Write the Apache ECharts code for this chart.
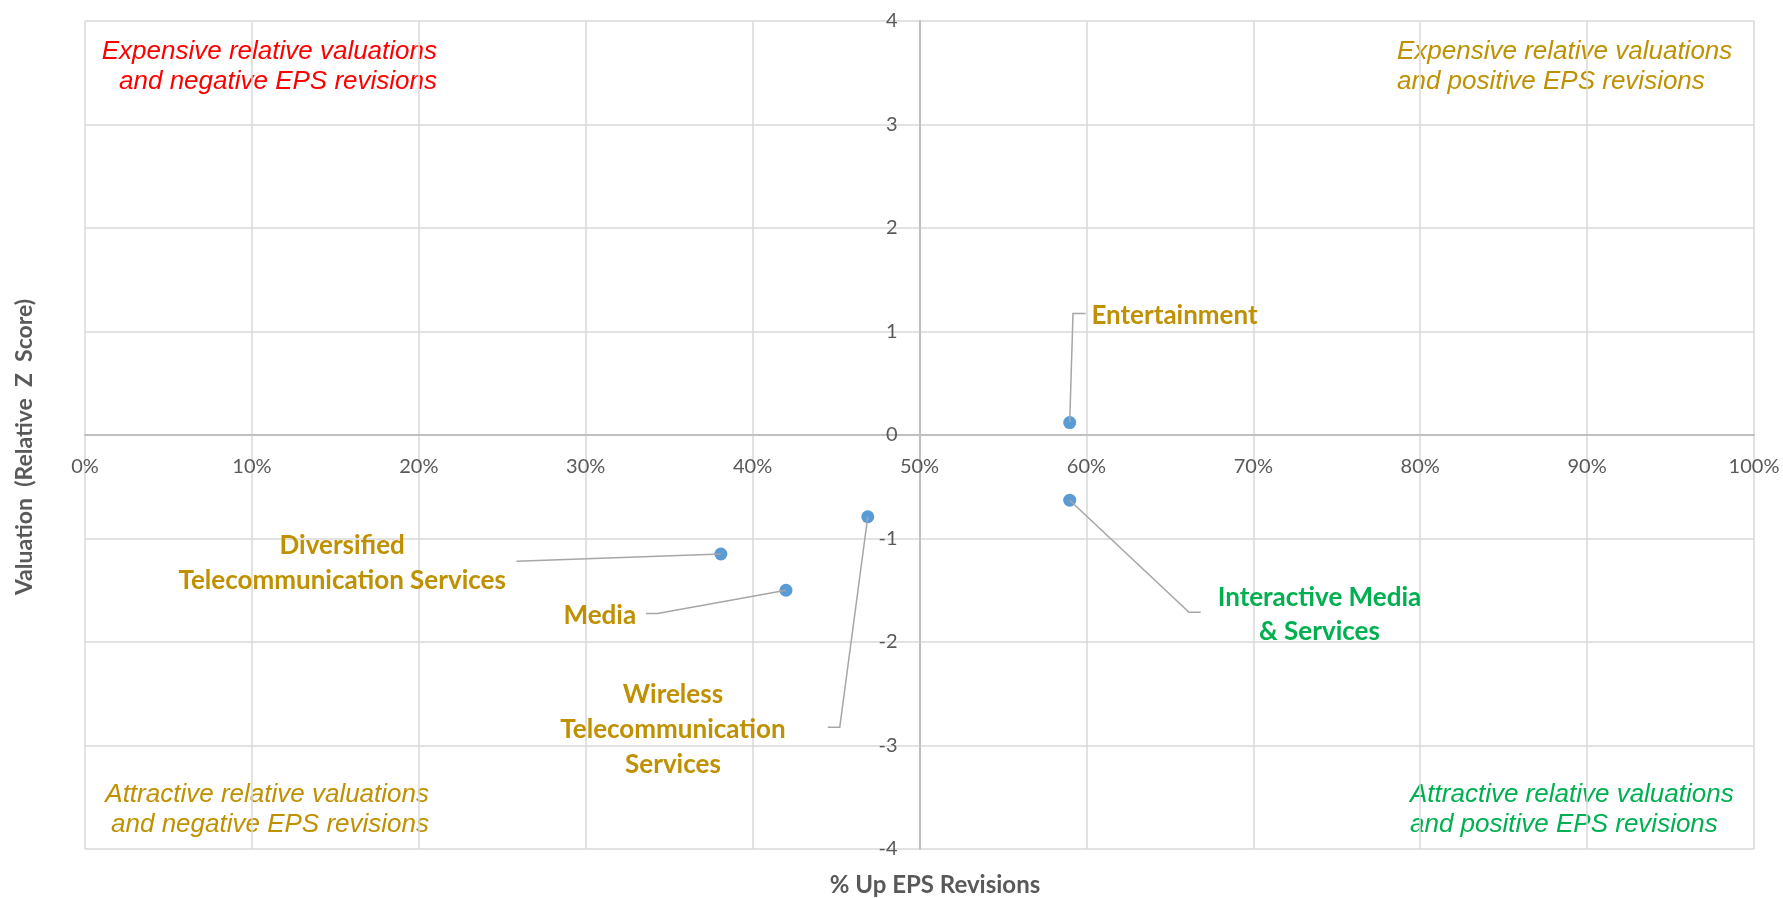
<!DOCTYPE html>
<html>
<head>
<meta charset="utf-8">
<title>Valuation vs % Up EPS Revisions</title>
<script src="https://cdn.jsdelivr.net/npm/echarts@6/dist/echarts.min.js"></script>
<style>
  html, body { margin: 0; padding: 0; background: #ffffff; }
  #chart { width: 1783px; height: 898px; }
</style>
</head>
<body>
<div id="chart"></div>
<script>
// Industry groups and their readings
const industries = [
  'Entertainment',
  'Interactive Media\n& Services',
  'Wireless\nTelecommunication\nServices',
  'Diversified\nTelecommunication Services',
  'Media'
];
const pctUpRevisions = [59.0, 59.0, 46.9, 38.1, 42.0];   // % Up EPS Revisions
const relativeZScore = [0.12, -0.63, -0.79, -1.15, -1.50]; // Valuation (Relative Z Score)

// Axis ticks
const xTicks = { min: 0, max: 100, step: 10 };
const yTicks = { min: -4, max: 4, step: 1 };

// Colours
const GOLD = '#BF9000';
const GREEN = '#00B050';
const RED = '#FF0000';
const AXIS_TEXT = '#595959';

// Callout placement per point, in pixels relative to the marker:
// leader polyline points, label anchor, alignment, colour, line height
const callouts = [
  { path: [[3.3, -109], [16, -109]], at: [21.7, -106.6], align: 'left', color: GOLD, lh: 34 },
  { path: [[119.3, 112], [131, 112]], at: [249.7, 114], align: 'center', color: GREEN, lh: 34 },
  { path: [[-28, 210.4], [-40, 210.4]], at: [-194.8, 212.4], align: 'center', color: GOLD, lh: 35 },
  { path: [[-204.4, 7.3]], at: [-378.7, 9.2], align: 'center', color: GOLD, lh: 35 },
  { path: [[-128.4, 23.3], [-140, 23.3]], at: [-186.2, 25], align: 'center', color: GOLD, lh: 34 }
];

const points = pctUpRevisions.map((x, i) => [x, relativeZScore[i]]);

const GRID = { left: 85, right: 29, top: 21, bottom: 49 };
const plotWidth = 1783 - GRID.left - GRID.right;
const plotHeight = 898 - GRID.top - GRID.bottom;

// The axes cross in the middle of the plot: x axis at 0, y axis at 50%
const xAxisShift = -plotHeight * (0 - yTicks.min) / (yTicks.max - yTicks.min);
const yAxisShift = -plotWidth * (50 - xTicks.min) / (xTicks.max - xTicks.min);

const quadrantFont = 'italic 26px "Liberation Sans", Arial, sans-serif';

const chart = echarts.init(document.getElementById('chart'), null, { renderer: 'canvas' });

chart.setOption({
  backgroundColor: '#ffffff',
  animation: false,
  grid: GRID,
  xAxis: {
    type: 'value',
    min: xTicks.min,
    max: xTicks.max,
    interval: xTicks.step,
    position: 'bottom',
    offset: xAxisShift,
    axisLine: { show: true, onZero: false, lineStyle: { color: '#BFBFBF', width: 2 } },
    axisTick: { show: false },
    axisLabel: {
      formatter: '{value}%',
      color: AXIS_TEXT,
      fontFamily: 'Lato',
      fontSize: 20,
      margin: 22
    },
    splitLine: { show: true, lineStyle: { color: '#D9D9D9', width: 1.5 } }
  },
  yAxis: {
    type: 'value',
    min: yTicks.min,
    max: yTicks.max,
    interval: yTicks.step,
    position: 'left',
    offset: yAxisShift,
    axisLine: { show: true, onZero: false, lineStyle: { color: '#BFBFBF', width: 2 } },
    axisTick: { show: false },
    axisLabel: {
      color: AXIS_TEXT,
      fontFamily: 'Lato',
      fontSize: 20,
      margin: 22
    },
    splitLine: { show: true, lineStyle: { color: '#D9D9D9', width: 1.5 } }
  },
  graphic: [
    {
      type: 'text', x: 25, y: 447, rotation: Math.PI / 2,
      style: {
        text: 'Valuation  (Relative  Z  Score)',
        fill: AXIS_TEXT, font: 'bold 23px Lato',
        align: 'center', verticalAlign: 'middle'
      }
    },
    {
      type: 'text', x: 935, y: 885,
      style: {
        text: '% Up EPS Revisions',
        fill: AXIS_TEXT, font: 'bold 24px Lato',
        align: 'center', verticalAlign: 'middle'
      }
    },
    {
      type: 'text', x: 437, y: 67,
      style: {
        text: 'Expensive relative valuations\nand negative EPS revisions',
        fill: RED, font: quadrantFont, lineHeight: 30,
        align: 'right', verticalAlign: 'middle'
      }
    },
    {
      type: 'text', x: 1397, y: 67,
      style: {
        text: 'Expensive relative valuations\nand positive EPS revisions',
        fill: GOLD, font: quadrantFont, lineHeight: 30,
        align: 'left', verticalAlign: 'middle'
      }
    },
    {
      type: 'text', x: 429, y: 810,
      style: {
        text: 'Attractive relative valuations\nand negative EPS revisions',
        fill: GOLD, font: quadrantFont, lineHeight: 30,
        align: 'right', verticalAlign: 'middle'
      }
    },
    {
      type: 'text', x: 1410, y: 810,
      style: {
        text: 'Attractive relative valuations\nand positive EPS revisions',
        fill: GREEN, font: quadrantFont, lineHeight: 30,
        align: 'left', verticalAlign: 'middle'
      }
    }
  ],
  series: [
    {
      name: 'Industries',
      type: 'scatter',
      data: points,
      symbol: 'circle',
      symbolSize: 13,
      itemStyle: { color: '#5B9BD5', opacity: 1 },
      z: 3
    },
    {
      name: 'Callouts',
      type: 'custom',
      data: points,
      z: 4,
      silent: true,
      renderItem: function (params, api) {
        const i = params.dataIndex;
        const c = callouts[i];
        const p = api.coord([api.value(0), api.value(1)]);
        const pts = [p].concat(c.path.map(o => [p[0] + o[0], p[1] + o[1]]));
        return {
          type: 'group',
          children: [
            {
              type: 'polyline',
              shape: { points: pts },
              style: { stroke: '#A6A6A6', lineWidth: 1.5, fill: null }
            },
            {
              type: 'text',
              x: p[0] + c.at[0],
              y: p[1] + c.at[1],
              style: {
                text: industries[i],
                fill: c.color,
                font: 'bold 26px Lato',
                lineHeight: c.lh,
                align: c.align,
                verticalAlign: 'middle'
              }
            }
          ]
        };
      }
    }
  ]
});
</script>
</body>
</html>
